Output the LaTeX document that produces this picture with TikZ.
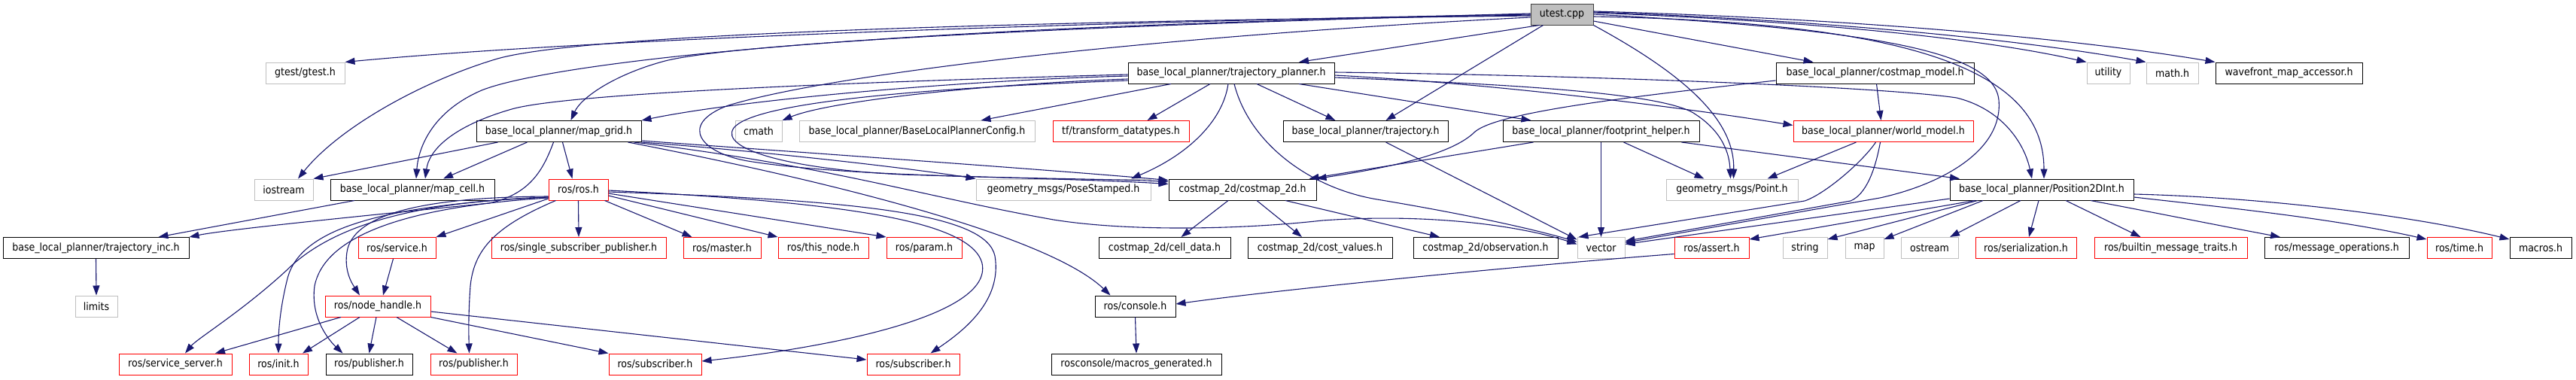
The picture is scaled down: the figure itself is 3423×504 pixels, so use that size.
\documentclass[tikz,border=0pt]{standalone}
\usepackage{fontspec}
\setmainfont{DejaVu Sans}[FakeStretch=0.9]
\usetikzlibrary{arrows.meta}
\definecolor{edgec}{HTML}{191970}
\definecolor{grayb}{HTML}{BFBFBF}
\definecolor{redb}{HTML}{FF0000}
\begin{document}
\begin{tikzpicture}[x=1pt,y=-1pt,
  box/.style={rectangle, line width=1pt, minimum height=28pt, inner sep=0pt, font=\fontsize{14}{16}\selectfont, anchor=center},
  bk/.style={box, draw=black},
  gr/.style={box, draw=grayb},
  rd/.style={box, draw=redb},
  lnk/.style={draw=edgec, line width=1.1pt, -{Triangle[length=13pt,width=9pt]}}
]
\useasboundingbox (0,0) rectangle (3423,504);
% row 0
\node[box, draw=black!75, fill=grayb, minimum width=83pt] (nutest) at (2075.5,19) {utest.cpp};
% row 1
\node[gr, minimum width=105pt] (ngtest) at (405.5,97) {gtest/gtest.h};
\node[bk, minimum width=274pt] (ntp) at (1636,97) {base\_local\_planner/trajectory\_planner.h};
\node[bk, minimum width=263pt] (ncmodel) at (2491.5,97) {base\_local\_planner/costmap\_model.h};
\node[gr, minimum width=57pt] (nutility) at (2801.5,97) {utility};
\node[gr, minimum width=69pt] (nmath) at (2886.5,97) {math.h};
\node[bk, minimum width=195pt] (nwave) at (3041.5,97) {wavefront\_map\_accessor.h};
% row 2
\node[bk, minimum width=219pt] (nmapgrid) at (742.5,174.5) {base\_local\_planner/map\_grid.h};
\node[gr, minimum width=62pt] (ncmath) at (1008,174.5) {cmath};
\node[gr, minimum width=313pt] (nconfig) at (1218.5,174.5) {base\_local\_planner/BaseLocalPlannerConfig.h};
\node[rd, minimum width=181pt] (ntf) at (1489.5,174.5) {tf/transform\_datatypes.h};
\node[bk, minimum width=219pt] (ntraj) at (1814.5,174.5) {base\_local\_planner/trajectory.h};
\node[bk, minimum width=261pt] (nfoot) at (2127.5,174.5) {base\_local\_planner/footprint\_helper.h};
\node[rd, minimum width=239pt] (nworld) at (2502.5,174.5) {base\_local\_planner/world\_model.h};
% row 3
\node[gr, minimum width=78pt] (niostream) at (377,252) {iostream};
\node[bk, minimum width=218pt] (nmapcell) at (548,252) {base\_local\_planner/map\_cell.h};
\node[rd, minimum width=79pt] (nrosros) at (768.5,252) {ros/ros.h};
\node[gr, minimum width=232pt] (npose) at (1413,252) {geometry\_msgs/PoseStamped.h};
\node[bk, minimum width=196pt] (ncostmap) at (1651,252) {costmap\_2d/costmap\_2d.h};
\node[gr, minimum width=175pt] (npoint) at (2301.5,252) {geometry\_msgs/Point.h};
\node[bk, minimum width=244pt] (npos2d) at (2713,252) {base\_local\_planner/Position2DInt.h};
% row 4
\node[bk, minimum width=247pt] (ntrajinc) at (127.5,329.5) {base\_local\_planner/trajectory\_inc.h};
\node[rd, minimum width=103pt] (nservice) at (527.5,329.5) {ros/service.h};
\node[rd, minimum width=232pt] (nsinglesub) at (769,329.5) {ros/single\_subscriber\_publisher.h};
\node[rd, minimum width=103pt] (nmaster) at (959.5,329.5) {ros/master.h};
\node[rd, minimum width=120pt] (nthisnode) at (1094,329.5) {ros/this\_node.h};
\node[rd, minimum width=100pt] (nparam) at (1228,329.5) {ros/param.h};
\node[bk, minimum width=175pt] (ncelldata) at (1547.5,329.5) {costmap\_2d/cell\_data.h};
\node[bk, minimum width=192pt] (ncostvalues) at (1754,329.5) {costmap\_2d/cost\_values.h};
\node[bk, minimum width=192pt] (nobserv) at (1974,329.5) {costmap\_2d/observation.h};
\node[gr, minimum width=63pt] (nvector) at (2127.5,329.5) {vector};
\node[rd, minimum width=99pt] (nassert) at (2274.5,329.5) {ros/assert.h};
\node[gr, minimum width=59pt] (nstring) at (2398.5,329.5) {string};
\node[gr, minimum width=51pt] (nmapn) at (2477.5,329.5) {map};
\node[gr, minimum width=76pt] (nostream) at (2564,329.5) {ostream};
\node[rd, minimum width=134pt] (nserial) at (2692,329.5) {ros/serialization.h};
\node[rd, minimum width=203pt] (nbuiltin) at (2884.5,329.5) {ros/builtin\_message\_traits.h};
\node[bk, minimum width=192pt] (nmsgops) at (3105,329.5) {ros/message\_operations.h};
\node[rd, minimum width=86pt] (ntime) at (3268,329.5) {ros/time.h};
\node[bk, minimum width=82pt] (nmacros) at (3376,329.5) {macros.h};
% row 5
\node[gr, minimum width=56pt] (nlimits) at (128,407) {limits};
\node[rd, minimum width=140pt] (nnodehandle) at (502,407) {ros/node\_handle.h};
\node[bk, minimum width=107pt] (nconsole) at (1508.5,407) {ros/console.h};
% row 6
\node[rd, minimum width=150pt] (nsrvserver) at (233,484) {ros/service\_server.h};
\node[rd, minimum width=78pt] (ninit) at (370,484) {ros/init.h};
\node[bk, minimum width=115pt] (npubb) at (490.5,484) {ros/publisher.h};
\node[rd, minimum width=115pt] (npubr) at (629.5,484) {ros/publisher.h};
\node[rd, minimum width=123pt] (nsub1) at (870.5,484) {ros/subscriber.h};
\node[rd, minimum width=123pt] (nsub2) at (1213.5,484) {ros/subscriber.h};
\node[bk, minimum width=226pt] (nmacrosgen) at (1510,484) {rosconsole/macros\_generated.h};

% ---- edges from utest.cpp
\draw[lnk] (nutest.west) .. controls (1500,28) and (800,50) .. (ngtest.north east);
\draw[lnk] ([yshift=-2pt]nutest.west) .. controls (1200,30) and (760,50) .. (661,78) .. controls (560,108) and (450,170) .. ([xshift=19pt]niostream.north);
\draw[lnk] ([yshift=-1pt]nutest.west) .. controls (1100,35) and (720,88) .. (640,120) .. controls (575,148) and (556,195) .. ([xshift=5pt]nmapcell.north);
\draw[lnk] ([yshift=1pt]nutest.west) .. controls (1300,38) and (950,62) .. (880,82) .. controls (815,100) and (772,130) .. ([xshift=16pt]nmapgrid.north);
\draw[lnk] ([xshift=-30pt]nutest.south) -- ([xshift=90pt]ntp.north);
\draw[lnk] ([xshift=-25pt]nutest.south) -- ([xshift=27pt]ntraj.north);
\draw[lnk] ([yshift=-9pt]nutest.east) -- ([xshift=-82pt]ncmodel.north);
\draw[lnk] (nutest.south east) .. controls (2240,100) and (2305,160) .. ([xshift=2pt]npoint.north);
\draw[lnk] (nutest.east) .. controls (2500,40) and (2650,70) .. (2656,133) .. controls (2662,200) and (2580,245) .. (2498,263) -- ([yshift=7pt]nvector.east);
\draw[lnk] ([yshift=2pt]nutest.east) .. controls (2450,30) and (2650,55) .. (nutility.north west);
\draw[lnk] ([yshift=3pt]nutest.east) .. controls (2450,28) and (2700,55) .. (nmath.north west);
\draw[lnk] ([yshift=4pt]nutest.east) .. controls (2500,26) and (2780,55) .. (nwave.north west);
\draw[lnk] ([yshift=-3pt]nutest.east) .. controls (2560,30) and (2716,100) .. ([xshift=3pt]npos2d.north);
\draw[lnk] ([yshift=-4pt]nutest.west) .. controls (1500,50) and (1100,100) .. (968,140) .. controls (900,165) and (930,205) .. (1000,215) .. controls (1150,238) and (1450,236) .. ([yshift=-4pt]ncostmap.north west);

% ---- edges from trajectory_planner.h
\draw[lnk] ([yshift=-4pt]ntp.west) .. controls (1300,106) and (1000,130) .. (nmapgrid.north east);
\draw[lnk] ([yshift=-8pt]ntp.west) .. controls (1300,112) and (1100,135) .. (ncmath.north east);
\draw[lnk] ([xshift=-80pt]ntp.south) -- ([xshift=85pt]nconfig.north);
\draw[lnk] ([xshift=-28pt]ntp.south) -- ([xshift=35pt]ntf.north);
\draw[lnk] ([xshift=-4pt]ntp.south) .. controls (1625,160) and (1580,205) .. ([xshift=90pt]npose.north);
\draw[lnk] ([xshift=4pt]ntp.south) .. controls (1660,190) and (1740,250) .. (1830,265) .. controls (1950,285) and (2040,305) .. ([yshift=8pt]nvector.west);
\draw[lnk] ([xshift=34pt]ntp.south) -- ([xshift=-40pt]ntraj.north);
\draw[lnk] ([xshift=90pt]ntp.south) -- ([xshift=-93pt]nfoot.north);
\draw[lnk] ([yshift=-3pt]ntp.east) .. controls (2000,112) and (2250,145) .. ([yshift=8pt]nworld.west);
\draw[lnk] ([yshift=-6pt]ntp.east) .. controls (1950,110) and (2200,120) .. (2250,150) .. controls (2290,175) and (2298,205) .. ([xshift=-2pt]npoint.north);
\draw[lnk] ([yshift=1pt]ntp.east) .. controls (2100,100) and (2500,115) .. (2600,130) .. controls (2660,145) and (2690,190) .. ([xshift=-13pt]npos2d.north);
\draw[lnk] ([yshift=-10pt]ntp.west) .. controls (1200,118) and (1000,138) .. (975,170) .. controls (955,198) and (1050,225) .. (1200,232) .. controls (1400,238) and (1480,240) .. ([yshift=-7pt]ncostmap.north west);
\draw[lnk] ([yshift=-2pt]ntp.west) .. controls (1100,110) and (750,125) .. (680,145) .. controls (600,168) and (570,200) .. ([xshift=17pt]nmapcell.north);

% ---- edges from map_grid.h
\draw[lnk] ([xshift=-81pt]nmapgrid.south) -- (niostream.north east);
\draw[lnk] ([xshift=-42pt]nmapgrid.south) -- ([xshift=41pt]nmapcell.north);
\draw[lnk] ([xshift=5pt]nmapgrid.south) -- ([xshift=-8pt]nrosros.north);
\draw[lnk] ([xshift=-7pt]nmapgrid.south) .. controls (722,225) and (705,258) .. (650,270) .. controls (500,285) and (300,305) .. (ntrajinc.north east);
\draw[lnk] (nmapgrid.south east) .. controls (1000,200) and (1200,222) .. (npose.north west);
\draw[lnk] ([yshift=2pt]nmapgrid.south east) .. controls (1100,205) and (1400,226) .. ([yshift=-2pt]ncostmap.north west);
\draw[lnk] ([xshift=-10pt]nmapgrid.south east) .. controls (1100,220) and (1230,262) .. (1400,292) .. controls (1500,308) and (1650,305) .. (1757,293) .. controls (1900,283) and (2020,300) .. ([yshift=5pt]nvector.west);
\draw[lnk] ([xshift=92pt]nmapgrid.south) .. controls (1150,250) and (1400,320) .. ([xshift=-33pt]nconsole.north);

\draw[lnk] ([xshift=-77pt]nmapcell.south) -- ([xshift=83pt]ntrajinc.north);
\draw[lnk] (ntrajinc.south) -- (nlimits.north);

% ---- costmap_model.h
\draw[lnk] ([xshift=2pt]ncmodel.south) -- ([xshift=-3pt]nworld.north);
\draw[lnk] ([yshift=-10pt]ncmodel.west) .. controls (2150,130) and (1990,150) .. (1960,175) .. controls (1930,205) and (1850,222) .. (ncostmap.north east);

% ---- footprint_helper.h
\draw[lnk] ([xshift=-90pt]nfoot.south) -- ([xshift=-10pt]ncostmap.north east);
\draw[lnk] (nfoot.south) -- (nvector.north);
\draw[lnk] ([xshift=30pt]nfoot.south) -- ([xshift=-37pt]npoint.north);
\draw[lnk] ([xshift=107pt]nfoot.south) -- ([xshift=-109pt]npos2d.north);

% ---- world_model.h
\draw[lnk] ([xshift=-36pt]nworld.south) -- ([xshift=47pt]npoint.north);
\draw[lnk] ([xshift=-10pt]nworld.south) .. controls (2475,215) and (2425,258) .. (2398,267) -- ([xshift=2pt]nvector.north west);
\draw[lnk] ([xshift=-4pt]nworld.south) .. controls (2492,225) and (2480,258) .. (2459,267) -- ([yshift=9pt]nvector.east);

% ---- trajectory.h
\draw[lnk] ([xshift=27pt]ntraj.south) -- ([yshift=11pt]nvector.west);

% ---- costmap_2d.h
\draw[lnk] ([xshift=-19pt]ncostmap.south) -- ([xshift=22pt]ncelldata.north);
\draw[lnk] ([xshift=19pt]ncostmap.south) -- ([xshift=-24pt]ncostvalues.north);
\draw[lnk] ([xshift=57pt]ncostmap.south) -- ([xshift=-61pt]nobserv.north);

% ---- Position2DInt.h
\draw[lnk] ([yshift=-12pt]npos2d.west) -- ([yshift=5pt]nvector.east);
\draw[lnk] ([xshift=-89pt]npos2d.south) -- ([yshift=-3pt]nassert.north east);
\draw[lnk] ([xshift=-85pt]npos2d.south) -- ([yshift=-3pt]nstring.north east);
\draw[lnk] ([xshift=-78pt]npos2d.south) -- ([yshift=-3pt]nmapn.north east);
\draw[lnk] ([xshift=-28pt]npos2d.south) -- ([xshift=27pt]nostream.north);
\draw[lnk] ([xshift=-4pt]npos2d.south) -- ([xshift=4pt]nserial.north);
\draw[lnk] ([xshift=32pt]npos2d.south) -- ([xshift=-40pt]nbuiltin.north);
\draw[lnk] ([xshift=65pt]npos2d.south) .. controls (2850,280) and (2950,300) .. ([xshift=-75pt]nmsgops.north);
\draw[lnk] ([yshift=-10pt]npos2d.east) .. controls (2950,275) and (3100,290) .. ([yshift=-3pt]ntime.north west);
\draw[lnk] ([yshift=-6pt]npos2d.east) .. controls (3000,262) and (3200,285) .. ([yshift=-3pt]nmacros.north west);

% ---- assert / console
\draw[lnk] ([yshift=-8pt]nassert.west) .. controls (2000,355) and (1700,385) .. ([yshift=3pt]nconsole.east);
\draw[lnk] (nconsole.south) -- (nmacrosgen.north);

% ---- ros/ros.h
\draw[lnk] ([yshift=-10pt]nrosros.west) .. controls (550,268) and (440,300) .. (380,360) .. controls (320,415) and (262,450) .. ([xshift=13pt]nsrvserver.north);
\draw[lnk] ([yshift=-10pt]nrosros.west) .. controls (520,272) and (400,300) .. (382,370) .. controls (372,410) and (370,440) .. (ninit.north);
\draw[lnk] ([yshift=-11pt]nrosros.west) .. controls (520,276) and (430,320) .. (418,380) .. controls (412,425) and (440,455) .. ([xshift=-35pt]npubb.north);
\draw[lnk] ([yshift=-9pt]nrosros.west) .. controls (560,262) and (475,285) .. (462,330) .. controls (455,360) and (470,380) .. ([xshift=-24pt]nnodehandle.north);
\draw[lnk] ([yshift=-12pt]nrosros.west) -- (nservice.north east);
\draw[lnk] ([xshift=-30pt]nrosros.south) .. controls (660,300) and (630,330) .. (625,380) .. controls (622,420) and (623,450) .. ([xshift=-6pt]npubr.north);
\draw[lnk] (nrosros.south) -- (nsinglesub.north);
\draw[lnk] ([xshift=35pt]nrosros.south) -- ([xshift=-40pt]nmaster.north);
\draw[lnk] ([yshift=-8pt]nrosros.east) -- (nthisnode.north west);
\draw[lnk] ([yshift=-5pt]nrosros.east) -- (nparam.north west);
\draw[lnk] ([yshift=-1pt]nrosros.east) .. controls (1100,268) and (1290,290) .. (1305,350) .. controls (1320,420) and (1100,462) .. ([yshift=4pt]nsub1.east);
\draw[lnk] ([yshift=-3pt]nrosros.east) .. controls (1150,266) and (1310,285) .. (1322,340) .. controls (1332,400) and (1280,440) .. ([xshift=23pt]nsub2.north);

% ---- ros/service.h, node_handle.h
\draw[lnk] ([xshift=-5pt]nservice.south) -- ([xshift=7pt]nnodehandle.north);
\draw[lnk] ([xshift=-49pt]nnodehandle.south) -- ([xshift=53pt]nsrvserver.north);
\draw[lnk] ([xshift=-24pt]nnodehandle.south) -- ([xshift=32pt]ninit.north);
\draw[lnk] ([xshift=-2pt]nnodehandle.south) -- (npubb.north);
\draw[lnk] ([xshift=25pt]nnodehandle.south) -- ([xshift=-22pt]npubr.north);
\draw[lnk] (nnodehandle.south east) -- (nsub1.north west);
\draw[lnk] ([yshift=-7pt]nnodehandle.east) -- ([yshift=6pt]nsub2.west);
\end{tikzpicture}
\end{document}
